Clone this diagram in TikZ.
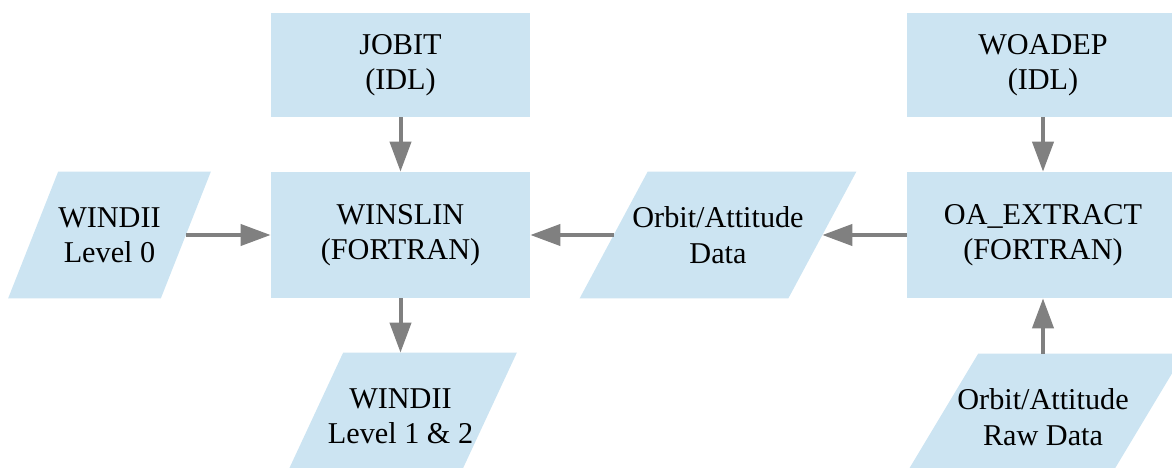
\documentclass[tikz,border=0pt]{standalone}
\usepackage{fontspec}
\setmainfont{Liberation Serif}
\usetikzlibrary{arrows.meta, backgrounds}
\definecolor{boxblue}{RGB}{204,228,242}
\definecolor{flowgray}{RGB}{128,128,128}

\begin{document}
\begin{tikzpicture}[
    prog/.style={rectangle, fill=boxblue, align=center, inner sep=0pt,
        font=\fontsize{17.2}{20.2}\selectfont},
    data/.style={rectangle, align=center, inner sep=0pt, minimum height=2.52cm,
        font=\fontsize{17.2}{20.2}\selectfont},
    flow/.style={draw=flowgray, line width=0.08cm, -{Triangle[length=6mm, width=4.2mm]}}]
        \useasboundingbox (0, 0) rectangle (23.44, 9.34);
        \clip (0, 0) rectangle (23.44, 9.34);
        % programs
        \node[prog, minimum width=5.18cm, minimum height=2.08cm] (jobit) at (8.01, 8.04) {JOBIT\\(IDL)};
        \node[prog, minimum width=5.18cm, minimum height=2.52cm] (winslin) at (8.01, 4.64) {WINSLIN\\(FORTRAN)};
        \node[prog, minimum width=5.44cm, minimum height=2.08cm] (woadep) at (20.86, 8.04) {WOADEP\\(IDL)};
        \node[prog, minimum width=5.44cm, minimum height=2.52cm] (oaext) at (20.86, 4.64) {OA\_EXTRACT\\(FORTRAN)};
        % data (node = middle band of the parallelogram)
        \node[data, minimum width=3.04cm] (lvlzero) at (2.19, 4.64) {WINDII\\Level 0};
        \node[data, minimum width=4.16cm] (oadata) at (14.36, 4.64) {Orbit/Attitude\\Data};
        \node[data, minimum width=3.46cm] (lvlout) at (8.01, 1.02) {WINDII\\Level 1 \& 2};
        \node[data, minimum width=4.10cm] (oaraw) at (20.86, 1.0) {Orbit/Attitude\\Raw Data};
        \begin{scope}[on background layer]
            \foreach \n/\s in {lvlzero/0.5, oadata/0.68, lvlout/0.59, oaraw/0.76}
                \fill[boxblue] ([xshift=\s cm]\n.north west) -- ([xshift=\s cm]\n.north east)
                    -- ([xshift=-\s cm]\n.south east) -- ([xshift=-\s cm]\n.south west) -- cycle;
        \end{scope}
        % flows
        \draw[flow] (jobit) -- (winslin);
        \draw[flow] (lvlzero) -- (winslin);
        \draw[flow] (oadata) -- (winslin);
        \draw[flow] (winslin) -- (lvlout);
        \draw[flow] (woadep) -- (oaext);
        \draw[flow] (oaext) -- (oadata);
        \draw[flow] (oaraw) -- (oaext);
\end{tikzpicture}
\end{document}
